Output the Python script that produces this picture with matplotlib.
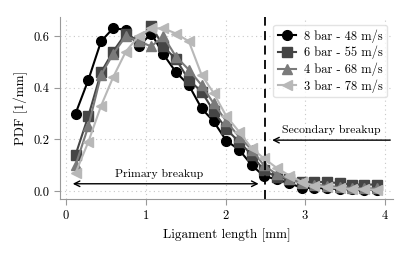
import matplotlib
matplotlib.use("Agg")
import matplotlib.pyplot as plt

plt.rcParams["font.family"] = "serif"
plt.rcParams["font.serif"] = ["cmr10"]
plt.rcParams["mathtext.fontset"] = "cm"
plt.rcParams["axes.formatter.use_mathtext"] = True

# bin centres [mm]
x = [0.12, 0.28, 0.44, 0.59, 0.75, 0.91, 1.07, 1.22, 1.38, 1.54, 1.70, 1.85, 2.01,
     2.17, 2.33, 2.48, 2.64, 2.80, 2.96, 3.11, 3.27, 3.43, 3.59, 3.74, 3.90]

pdf_8bar = [0.30, 0.43, 0.58, 0.63, 0.625, 0.56, 0.61, 0.53, 0.46, 0.41, 0.32, 0.27, 0.195,
            0.16, 0.10, 0.058, 0.045, 0.03, 0.012, 0.012, 0.01, 0.008, 0.006, 0.005, 0.005]
pdf_6bar = [0.14, 0.29, 0.46, 0.54, 0.61, 0.58, 0.64, 0.56, 0.51, 0.43, 0.385, 0.31, 0.24,
            0.19, 0.14, 0.08, 0.055, 0.045, 0.035, 0.035, 0.035, 0.03, 0.025, 0.025, 0.025]
pdf_4bar = [0.10, 0.25, 0.45, 0.53, 0.60, 0.58, 0.56, 0.60, 0.52, 0.47, 0.41, 0.34, 0.27,
            0.21, 0.16, 0.10, 0.065, 0.045, 0.03, 0.025, 0.02, 0.015, 0.012, 0.01, 0.01]
pdf_3bar = [0.07, 0.19, 0.33, 0.44, 0.54, 0.60, 0.63, 0.63, 0.61, 0.58, 0.45, 0.38, 0.29,
            0.23, 0.165, 0.127, 0.09, 0.06, 0.035, 0.02, 0.015, 0.01, 0.008, 0.006, 0.005]

labels = ["8 bar - 48 m/s", "6 bar - 55 m/s", "4 bar - 68 m/s", "3 bar - 78 m/s"]
colors = ["#000000", "#454545", "#7a7a7a", "#b8b8b8"]
markers = ["o", "s", "^", "<"]

fig = plt.figure(figsize=(4.11, 2.54), dpi=100)
ax = fig.add_axes([60/411, 55/254, 333/411, 182/254])

for yv, lab, c, m in zip([pdf_8bar, pdf_6bar, pdf_4bar, pdf_3bar], labels, colors, markers):
    ax.plot(x, yv, color=c, marker=m, markersize=7, linewidth=1.5, label=lab)

ax.axvline(2.5, color="black", linestyle="--", linewidth=1.3, dashes=(5, 3))

ax.annotate("", xy=(0.05, 0.028), xytext=(2.45, 0.028),
            arrowprops=dict(arrowstyle="<->", color="black", lw=1.0))
ax.text(1.17, 0.045, "Primary breakup", fontsize=8.5, ha="center", va="bottom")
ax.annotate("", xy=(2.55, 0.197), xytext=(4.1, 0.197),
            arrowprops=dict(arrowstyle="->", color="black", lw=1.0))
ax.text(3.32, 0.215, "Secondary breakup", fontsize=8.5, ha="center", va="bottom")

ax.set_xlim(-0.075, 4.1)
ax.set_ylim(-0.031, 0.674)
ax.set_xticks([0, 1, 2, 3, 4])
ax.set_yticks([0.0, 0.2, 0.4, 0.6])
ax.set_yticklabels(["0.0", "0.2", "0.4", "0.6"])
ax.grid(True, color="#c8c8c8", linestyle=(0, (1, 3)), linewidth=0.8)
ax.set_axisbelow(True)
for s in ["top", "right"]:
    ax.spines[s].set_visible(False)
for s in ["left", "bottom"]:
    ax.spines[s].set_color("#999999")
ax.tick_params(colors="#999999", labelcolor="black", labelsize=9, length=4)
ax.set_xlabel("Ligament length [mm]", fontsize=9.5)
ax.set_ylabel("PDF [1/mm]", fontsize=9.5)

ax.legend(loc="upper right", fontsize=9, frameon=True, edgecolor="#dddddd",
          fancybox=True, borderpad=0.35, labelspacing=0.25, handlelength=1.5,
          handletextpad=0.6, borderaxespad=0.2, bbox_to_anchor=(0.99, 0.97))

fig.savefig("out.png", dpi=100)
